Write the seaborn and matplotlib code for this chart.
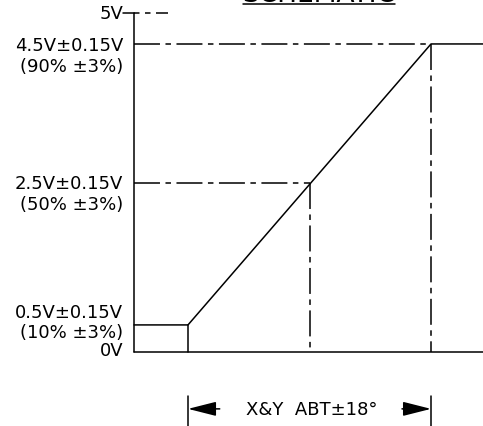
import matplotlib
matplotlib.use("Agg")
import matplotlib.pyplot as plt
import seaborn as sns
import pandas as pd

sns.set_theme(style="white")
plt.rcParams['font.family'] = ['DejaVu Sans']

# ---- data (x: tilt angle in degrees, y: output voltage as drawn) ----
curve_deg = [-26.0, -18.0, 18.0, 26.0]
curve_v = [0.40, 0.40, 4.55, 4.55]
step_deg = -18.0
low_v = 0.40
mid_deg, mid_v = 0.0, 2.5
high_deg, high_v = 18.0, 4.55
top_v = 5.0
axis_left_deg = -26.0
axis_right_deg = 25.7

label_texts = ["5V", "4.5V±0.15V", "(90% ±3%)", "2.5V±0.15V", "(50% ±3%)",
               "0.5V±0.15V", "(10% ±3%)", "0V"]
label_v = [5.0, 4.53, 4.22, 2.5, 2.19, 0.59, 0.295, 0.03]

title = "SCHEMATIC"
dim_text = "X&Y  ABT±18°"
dim_v = -0.84

fig = plt.figure(figsize=(4.83, 4.27), dpi=100)
ax = fig.add_axes([0, 0, 1, 1])
ax.set_xlim(-45.85, 25.7)
ax.set_ylim(-1.093, 5.214)
ax.axis("off")

lw = 1.1
dd = (0, (17, 3.6, 3.6, 3.6))

df = pd.DataFrame({"deg": curve_deg, "v": curve_v})
sns.lineplot(data=df, x="deg", y="v", ax=ax, color="black", lw=lw, sort=False)

# axes lines
ax.plot([axis_left_deg, axis_left_deg], [0, top_v], color="black", lw=lw)
ax.plot([axis_left_deg, axis_right_deg], [0, 0], color="black", lw=lw)
# step vertical
ax.plot([step_deg, step_deg], [0, low_v], color="black", lw=lw)
# 5V tick
ax.plot([axis_left_deg - 1.6, axis_left_deg], [top_v, top_v], color="black", lw=lw)
ax.plot([axis_left_deg, axis_left_deg + 5.0], [top_v, top_v], color="black", lw=lw,
        linestyle=(0, (3.6, 3.6, 3.6, 3.6, 7, 0)))
# reference dash-dot lines
ax.plot([axis_left_deg, high_deg], [high_v, high_v], color="black", lw=lw, linestyle=dd)
ax.plot([axis_left_deg, mid_deg], [mid_v, mid_v], color="black", lw=lw, linestyle=dd)
ax.plot([mid_deg, mid_deg], [mid_v, 0], color="black", lw=lw, linestyle=dd)
ax.plot([high_deg, high_deg], [high_v, 0], color="black", lw=lw, linestyle=dd)

# labels
for t, v in zip(label_texts, label_v):
    ax.text(-27.6, v, t, ha="right", va="center", fontsize=13, color="black")

# dimension
ax.plot([step_deg, step_deg], [-0.65, -1.2], color="black", lw=lw)
ax.plot([high_deg, high_deg], [-0.65, -1.2], color="black", lw=lw)
aprops = dict(arrowstyle="-|>,head_length=0.87,head_width=0.22", color="black",
              lw=lw, shrinkA=0, shrinkB=0, mutation_scale=20)
ax.annotate("", xy=(step_deg, dim_v), xytext=(-13.3, dim_v), arrowprops=aprops)
ax.annotate("", xy=(high_deg, dim_v), xytext=(13.7, dim_v), arrowprops=aprops)
ax.text(0.3, dim_v, dim_text, ha="center", va="center", fontsize=13, color="black")

# title (clipped at top) with underline
fig.text(319 / 483, 1 - 2.5 / 427, title, ha="center", va="baseline", fontsize=19,
         color="black")
fig.add_artist(plt.Line2D([243 / 483, 395 / 483], [1 - 5 / 427, 1 - 5 / 427],
                          color="black", lw=lw))

fig.savefig("out.png", dpi=100, facecolor="white")
